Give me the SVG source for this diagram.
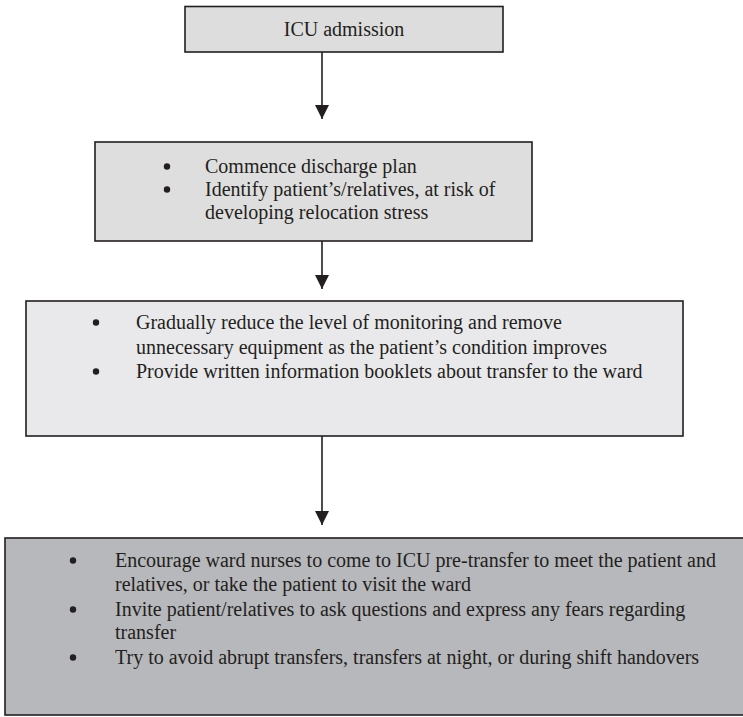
<svg xmlns="http://www.w3.org/2000/svg" width="743" height="717" viewBox="0 0 743 717">
<style>
.box{stroke:#231f20;stroke-width:1.6}
.t{font-family:"Liberation Serif","Times New Roman",serif;font-size:20px;fill:#231f20}
.bu{fill:#231f20}
.ln{stroke:#231f20;stroke-width:1.6;fill:none}
</style>
<defs>
<marker id="ah" markerUnits="userSpaceOnUse" markerWidth="14" markerHeight="14" refX="14" refY="7" orient="auto" viewBox="0 0 14 14">
<path d="M0,0 L14,7 L0,14 Z" fill="#231f20"/>
</marker>
</defs>
<rect width="743" height="717" fill="#ffffff"/>
<g id="n1">
<rect class="box" x="185" y="6.5" width="318" height="45.5" fill="#dddddd"/>
<text class="t" x="344" y="36" text-anchor="middle">ICU admission</text>
</g>
<g id="n2">
<rect class="box" x="95" y="142" width="437" height="99" fill="#dedede"/>
<circle class="bu" cx="167" cy="166.5" r="3.2"/>
<text class="t" x="205" y="173">Commence discharge plan</text>
<circle class="bu" cx="167" cy="189.5" r="3.2"/>
<text class="t" x="205" y="196">Identify patient’s/relatives,  at risk of</text>
<text class="t" x="205" y="219">developing relocation stress</text>
</g>
<g id="n3">
<rect class="box" x="26" y="301" width="657" height="135" fill="#e9e9eb"/>
<circle class="bu" cx="96" cy="322.5" r="3.2"/>
<text class="t" x="136" y="329">Gradually reduce the level of monitoring and remove</text>
<text class="t" x="136" y="354">unnecessary equipment as the patient’s condition improves</text>
<circle class="bu" cx="96" cy="371.5" r="3.2"/>
<text class="t" x="136" y="378">Provide written information booklets about transfer to the ward</text>
</g>
<g id="n4">
<rect class="box" x="5" y="538" width="740" height="177" fill="#b7b8bb"/>
<circle class="bu" cx="73" cy="560.5" r="3.2"/>
<text class="t" x="115" y="567">Encourage ward nurses to come to ICU pre-transfer to meet the patient and</text>
<text class="t" x="115" y="591">relatives, or take the patient to visit the ward</text>
<circle class="bu" cx="73" cy="609.5" r="3.2"/>
<text class="t" x="115" y="616">Invite patient/relatives to ask questions and express any fears regarding</text>
<text class="t" x="115" y="639">transfer</text>
<circle class="bu" cx="73" cy="657.5" r="3.2"/>
<text class="t" x="115" y="664">Try to avoid abrupt transfers, transfers at night, or during shift handovers</text>
</g>
<g id="connectors">
<line class="ln" x1="322" y1="52" x2="322" y2="119" marker-end="url(#ah)"/>
<line class="ln" x1="322" y1="241" x2="322" y2="289" marker-end="url(#ah)"/>
<line class="ln" x1="322" y1="436" x2="322" y2="525" marker-end="url(#ah)"/>
</g>
</svg>
